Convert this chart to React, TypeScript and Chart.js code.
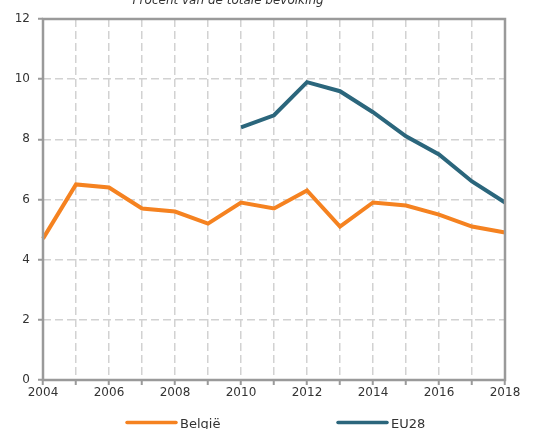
import React, { useEffect, useRef } from "react";
import { Chart, registerables } from "chart.js";

Chart.register(...registerables);

const years = ["2004","2005","2006","2007","2008","2009","2010","2011","2012","2013","2014","2015","2016","2017","2018"];
const belgie = [4.7, 6.5, 6.4, 5.7, 5.6, 5.2, 5.9, 5.7, 6.3, 5.1, 5.9, 5.8, 5.5, 5.1, 4.9];
const eu28 = [null, null, null, null, null, null, 8.4, 8.8, 9.9, 9.6, 8.9, 8.1, 7.5, 6.6, 5.9];
const seriesNames = ["België", "EU28"];
const seriesColors = ["#F58220", "#2B667C"];
const titleText = "Procent van de totale bevolking";

const FONT = "'DejaVu Sans', sans-serif";
const AXIS = "#9a9a9a";
const TEXT = "#333333";

const framePlugin = {
  id: "frame",
  afterDatasetsDraw(chart: any) {
    const { ctx, chartArea } = chart;
    ctx.save();
    ctx.strokeStyle = AXIS;
    ctx.lineWidth = 2.5;
    ctx.strokeRect(chartArea.left, chartArea.top, chartArea.right - chartArea.left, chartArea.bottom - chartArea.top);
    ctx.restore();
  },
  afterDraw(chart: any) {
    const { ctx } = chart;
    ctx.save();
    ctx.fillStyle = TEXT;
    ctx.font = `italic 12px ${FONT}`;
    ctx.textAlign = "center";
    ctx.textBaseline = "alphabetic";
    ctx.fillText(titleText, 228, 4);
    // legend
    const items = [
      { x: 127, name: seriesNames[0], color: seriesColors[0] },
      { x: 338, name: seriesNames[1], color: seriesColors[1] },
    ];
    ctx.font = `13px ${FONT}`;
    ctx.textAlign = "left";
    items.forEach((it) => {
      ctx.strokeStyle = it.color;
      ctx.lineWidth = 3.5;
      ctx.lineCap = "round";
      ctx.beginPath();
      ctx.moveTo(it.x, 422.5);
      ctx.lineTo(it.x + 49, 422.5);
      ctx.stroke();
      ctx.fillText(it.name, it.x + 53, 427.5);
    });
    ctx.restore();
  },
};

export default function App() {
  const ref = useRef<HTMLCanvasElement | null>(null);
  useEffect(() => {
    if (!ref.current) return;
    const chart = new Chart(ref.current, {
      type: "line",
      data: {
        labels: years,
        datasets: [
          { label: seriesNames[0], data: belgie, borderColor: seriesColors[0], backgroundColor: seriesColors[0], borderWidth: 4, pointRadius: 0, tension: 0, borderJoinStyle: "miter" },
          { label: seriesNames[1], data: eu28 as any, borderColor: seriesColors[1], backgroundColor: seriesColors[1], borderWidth: 4, pointRadius: 0, tension: 0, borderJoinStyle: "miter" },
        ],
      },
      options: {
        animation: false,
        responsive: false,
        maintainAspectRatio: false,
        layout: { padding: { top: 19, right: 47, left: 0, bottom: 0 } },
        plugins: { legend: { display: false }, title: { display: false }, tooltip: { enabled: false } },
        scales: {
          x: {
            offset: false,
            grid: { color: "#d2d2d2", lineWidth: 1.5, tickColor: AXIS, tickLength: 5, tickWidth: 2 },
            border: { display: false, dash: [8, 4] },
            ticks: {
              autoSkip: false,
              maxRotation: 0,
              padding: 1,
              color: TEXT,
              font: { family: FONT, size: 12 },
              callback: (_v: any, i: number) => (i % 2 === 0 ? years[i] : ""),
            },
            afterFit: (s: any) => { s.height = 49; },
          },
          y: {
            min: 0,
            max: 12,
            grid: { color: "#d2d2d2", lineWidth: 1.5, tickColor: AXIS, tickLength: 5, tickWidth: 2 },
            border: { display: false, dash: [8, 4] },
            ticks: { stepSize: 2, padding: 8, color: TEXT, font: { family: FONT, size: 12 } },
            afterFit: (s: any) => { s.width = 43; },
          },
        },
      },
      plugins: [framePlugin],
    });
    return () => chart.destroy();
  }, []);
  return (
    <div style={{ position: "absolute", left: 0, top: 0, width: 552, height: 429 }}>
      <canvas ref={ref} width={552} height={429} style={{ width: 552, height: 429, display: "block" }} />
    </div>
  );
}
